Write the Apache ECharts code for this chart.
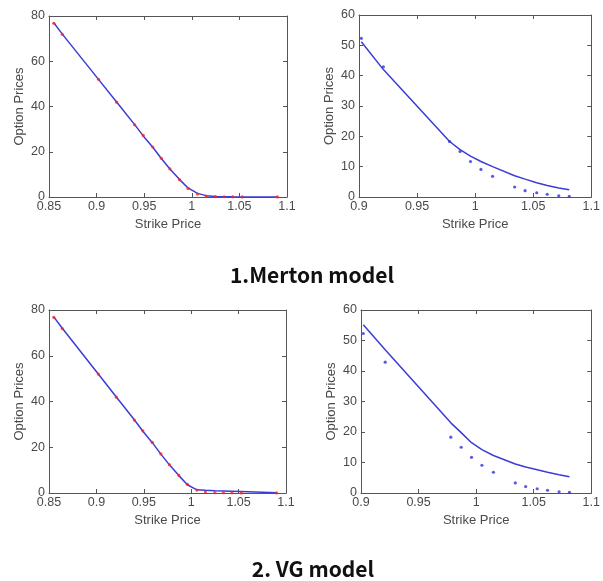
<!DOCTYPE html>
<html>
<head>
<meta charset="utf-8">
<script src="https://cdn.jsdelivr.net/npm/echarts@6/dist/echarts.min.js"></script>
<style>html,body{margin:0;padding:0;background:#fff}#c{width:603px;height:581px}</style>
</head>
<body>
<div id="c"></div>
<script>
// ---- data ----
const strikesWide = [0.855,0.864,0.902,0.921,0.940,0.949,0.959,0.968,0.977,0.987,0.996,1.006,1.015,1.025,1.034,1.043,1.053,1.090];
const marketWide  = [76.8,71.9,52,41.9,31.9,27.2,22.1,17.1,12.4,7.7,3.8,1.3,0.4,0.15,0.1,0.06,0.05,0.02];
const mertonWide  = [77,72,52,42,32,27,22,17,12.4,7.8,4.0,1.6,0.6,0.25,0.12,0.06,0.03,0.01];
const vgWide      = [77,72,52,42,32,27,22,17,12.3,7.6,3.6,1.4,1.2,1.0,0.9,0.8,0.7,0.15];

const strikesNarrow = [0.902,0.921,0.978,0.987,0.996,1.005,1.015,1.034,1.043,1.053,1.062,1.072,1.081];
const marketNarrow  = [52.3,42.9,18.3,15,11.7,9.1,6.8,3.3,2.1,1.4,0.9,0.4,0.2];
const mertonNarrow  = [51.2,42,18.3,15.6,13.5,11.7,10.0,7.0,5.9,4.7,3.8,3.0,2.4];
const vgNarrow      = [55.2,47,23,19.8,16.5,14.2,12.3,9.5,8.5,7.6,6.8,6.0,5.3];

const xTicksWide = [0.85, 1.1, 0.05];
const xTicksNarrow = [0.9, 1.1, 0.05];
const yTicksWide = [0, 80, 20];
const yTicksNarrow = [0, 60, 10];
const titles = ['1.Merton model', '2. VG model'];
const xName = 'Strike Price';
const yName = 'Option Prices';

// ---- build ----
const pair = (xs, ys) => xs.map((x, i) => [x, ys[i]]);
const axisCol = '#555';
const labelCol = '#4a4a4a';
const font = 'Liberation Sans, Arial, sans-serif';

const panels = [
  {grid:{left:49, top:16, width:238, height:181}, xt:xTicksWide, yt:yTicksWide, line:pair(strikesWide, mertonWide), dots:pair(strikesWide, marketWide), dotCol:'#ff2020'},
  {grid:{left:359, top:15, width:236, height:182}, xt:xTicksNarrow, yt:yTicksNarrow, line:pair(strikesNarrow, mertonNarrow), dots:pair(strikesNarrow, marketNarrow), dotCol:'#3030e0'},
  {grid:{left:49, top:310, width:237, height:183}, xt:xTicksWide, yt:yTicksWide, line:pair(strikesWide, vgWide), dots:pair(strikesWide, marketWide), dotCol:'#ff2020'},
  {grid:{left:361, top:310, width:236, height:183}, xt:xTicksNarrow, yt:yTicksNarrow, line:pair(strikesNarrow, vgNarrow), dots:pair(strikesNarrow, marketNarrow), dotCol:'#3030e0'}
];

const grid = [], xAxis = [], yAxis = [], series = [];
panels.forEach((p, i) => {
  grid.push(Object.assign({containLabel:false}, p.grid));
  const common = {
    type:'value', gridIndex:i, scale:false,
    axisLine:{show:true, onZero:false, lineStyle:{color:axisCol, width:1}},
    axisTick:{show:true, inside:true, length:4, lineStyle:{color:axisCol}},
    splitLine:{show:false}
  };
  xAxis.push(Object.assign({}, common, {
    position:'bottom', min:p.xt[0], max:p.xt[1], interval:p.xt[2],
    axisLabel:{color:labelCol, fontSize:12.5, fontFamily:font, margin:3, showMaxLabel:true},
    name:xName, nameLocation:'middle', nameGap:21,
    nameTextStyle:{color:labelCol, fontSize:13, fontFamily:font}
  }));
  xAxis.push(Object.assign({}, common, {
    position:'top', min:p.xt[0], max:p.xt[1], interval:p.xt[2],
    axisLabel:{show:false}
  }));
  yAxis.push(Object.assign({}, common, {
    position:'left', min:p.yt[0], max:p.yt[1], interval:p.yt[2],
    axisLabel:{color:labelCol, fontSize:12.5, fontFamily:font, margin:4},
    name:yName, nameLocation:'middle', nameGap:23,
    nameTextStyle:{color:labelCol, fontSize:13, fontFamily:font}
  }));
  yAxis.push(Object.assign({}, common, {
    position:'right', min:p.yt[0], max:p.yt[1], interval:p.yt[2],
    axisLabel:{show:false}
  }));
  series.push({
    type:'line', xAxisIndex:2*i, yAxisIndex:2*i, data:p.line,
    showSymbol:false, smooth:false, lineStyle:{color:'#3c3cd6', width:1.5}, z:2
  });
  series.push({
    type:'scatter', xAxisIndex:2*i, yAxisIndex:2*i, data:p.dots,
    symbol:'circle', symbolSize:3.2, itemStyle:{color:p.dotCol}, z:3
  });
});

const chart = echarts.init(document.getElementById('c'), null, {renderer:'canvas'});
chart.setOption({
  animation:false,
  backgroundColor:'#fff',
  grid, xAxis, yAxis, series,
  title:[
    {text:titles[0], left:307, top:260, textAlign:'center',
     textStyle:{fontSize:21, fontWeight:'bold', color:'#111', fontFamily:'Noto Sans CJK KR, Noto Sans, sans-serif'}},
    {text:titles[1], left:308, top:554, textAlign:'center',
     textStyle:{fontSize:21, fontWeight:'bold', color:'#111', fontFamily:'Noto Sans CJK KR, Noto Sans, sans-serif'}}
  ]
});
</script>
</body>
</html>
